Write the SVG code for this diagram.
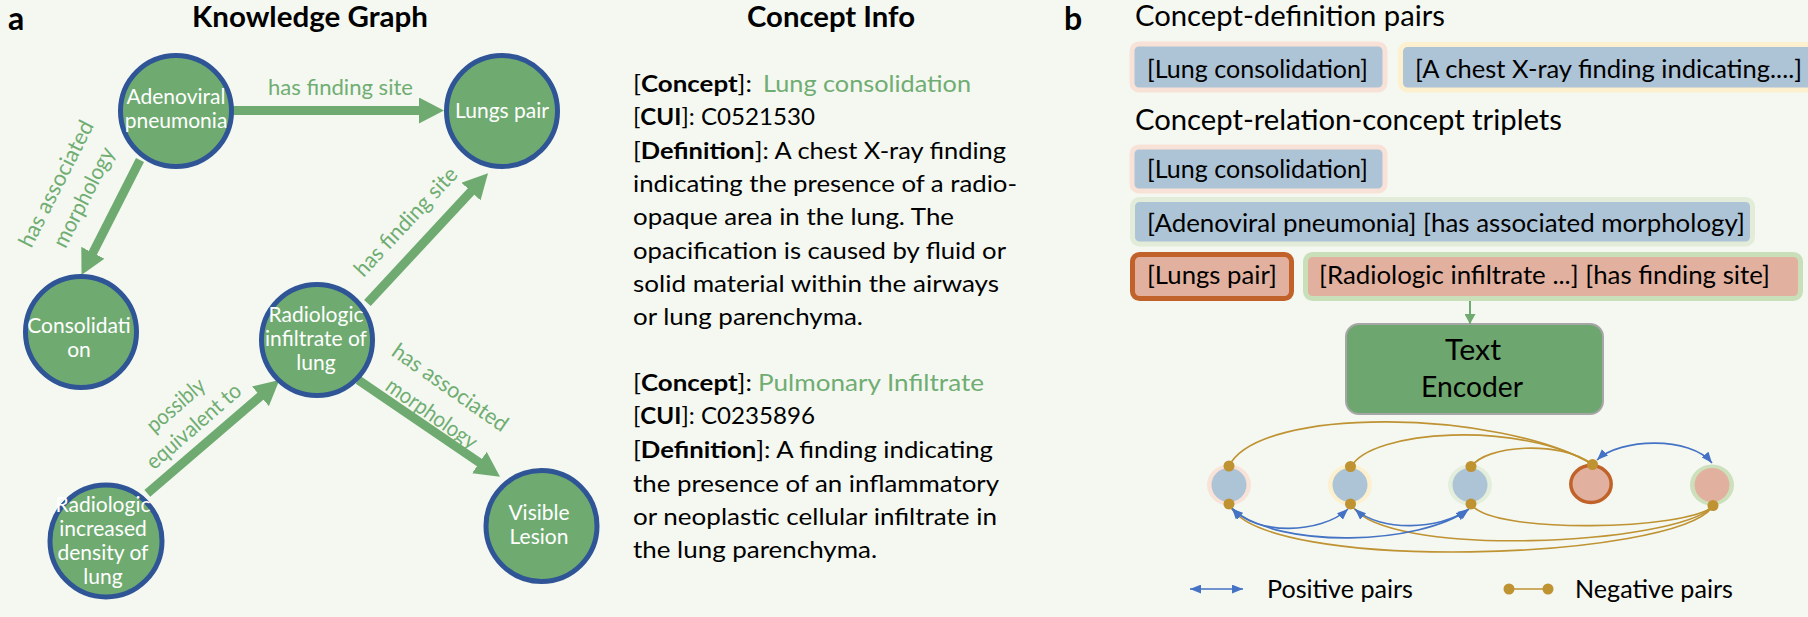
<svg xmlns="http://www.w3.org/2000/svg" width="1808" height="617" viewBox="0 0 1808 617">
<style>
text{font-family:Lato,"Open Sans","DejaVu Sans",sans-serif}
.node{fill:#6FAB71;stroke:#2F5597;stroke-width:5}
.nt{fill:#fff;font-size:21px;text-anchor:middle}
.edge{stroke:#6FAB71;stroke-width:9;fill:none;marker-end:url(#ah)}
.lbl{fill:#70AD72;font-size:22px;text-anchor:middle}
.title{font-size:28px;font-weight:bold;text-anchor:middle;fill:#000}
.pl{font-size:32px;font-weight:bold;fill:#000}
.info{font-size:23px;fill:#000}
.b{font-weight:bold}
.g{fill:#70AD72}
.hd{font-size:28px;fill:#000}
.bt{font-size:25px;fill:#000}
.blue{fill:#ADC3D6}
.pink{fill:#E2B09E}
.neg{fill:none;stroke:#BF9232;stroke-width:1.6}
.pos{fill:none;stroke:#4472C4;stroke-width:1.6;marker-start:url(#bh);marker-end:url(#bh)}
.dot{fill:#BF9232}
</style>
<defs>
<marker id="ah" markerUnits="userSpaceOnUse" viewBox="0 0 25 26" refX="5" refY="13" markerWidth="25" markerHeight="26" orient="auto"><path d="M0,0L25,13L0,26z" fill="#6FAB71"/></marker>
<marker id="bh" markerUnits="userSpaceOnUse" viewBox="0 0 10 8" refX="10" refY="4" markerWidth="11" markerHeight="9" orient="auto-start-reverse"><path d="M0,0L10,4L0,8z" fill="#4472C4"/></marker>
<marker id="gh" markerUnits="userSpaceOnUse" viewBox="0 0 10 11" refX="10" refY="5.5" markerWidth="11" markerHeight="11" orient="auto"><path d="M0,0L10,5.5L0,11z" fill="#6FAB71"/></marker>
</defs>
<rect width="1808" height="617" fill="#F4F8F1"/>

<!-- Panel a -->
<text class="pl" x="8" y="30">a</text>
<text class="title" x="310" y="27" textLength="236" lengthAdjust="spacingAndGlyphs">Knowledge Graph</text>

<g id="kg-connectors">
<line class="edge" x1="233" y1="110.5" x2="424" y2="110.5"/>
<line class="edge" x1="140" y1="160" x2="90.6" y2="257.2"/>
<line class="edge" x1="367.4" y1="303" x2="474.4" y2="187.9"/>
<line class="edge" x1="147.3" y1="493.3" x2="264.2" y2="393"/>
<line class="edge" x1="358.3" y1="380" x2="483.5" y2="465.4"/>
<text class="lbl" x="340.5" y="95" textLength="145" lengthAdjust="spacingAndGlyphs">has finding site</text>
<text class="lbl" transform="translate(406,222) rotate(-47)" y="7" textLength="140" lengthAdjust="spacingAndGlyphs">has finding site</text>
<text class="lbl" transform="translate(56.5,184) rotate(-63)" y="7" textLength="139" lengthAdjust="spacingAndGlyphs">has associated</text>
<text class="lbl" transform="translate(84,197.5) rotate(-63)" y="7" textLength="109" lengthAdjust="spacingAndGlyphs">morphology</text>
<text class="lbl" transform="translate(176,405.5) rotate(-41)" y="7" textLength="70" lengthAdjust="spacingAndGlyphs">possibly</text>
<text class="lbl" transform="translate(194,426.5) rotate(-41)" y="7" textLength="118" lengthAdjust="spacingAndGlyphs">equivalent to</text>
<text class="lbl" transform="translate(450,388) rotate(35)" y="7" textLength="136" lengthAdjust="spacingAndGlyphs">has associated</text>
<text class="lbl" transform="translate(431.5,414) rotate(35)" y="7" textLength="106" lengthAdjust="spacingAndGlyphs">morphology</text>
</g>

<g id="node-adenoviral">
<circle class="node" cx="176" cy="111" r="55.5"/>
<text class="nt" x="176" y="104">Adenoviral</text>
<text class="nt" x="176" y="128">pneumonia</text>
</g>
<g id="node-lungs-pair">
<circle class="node" cx="502" cy="111" r="55.5"/>
<text class="nt" x="502" y="118">Lungs pair</text>
</g>
<g id="node-consolidation">
<circle class="node" cx="81" cy="332" r="55.5"/>
<text class="nt" x="79" y="333">Consolidati</text>
<text class="nt" x="79" y="357">on</text>
</g>
<g id="node-radiologic-infiltrate">
<circle class="node" cx="317" cy="340" r="55.5"/>
<text class="nt" x="316" y="322">Radiologic</text>
<text class="nt" x="316" y="346">infiltrate of</text>
<text class="nt" x="316" y="370">lung</text>
</g>
<g id="node-radiologic-increased">
<circle class="node" cx="106" cy="541" r="56"/>
<text class="nt" x="103" y="512">Radiologic</text>
<text class="nt" x="103" y="536">increased</text>
<text class="nt" x="103" y="560">density of</text>
<text class="nt" x="103" y="584">lung</text>
</g>
<g id="node-visible-lesion">
<circle class="node" cx="541.5" cy="526" r="55.5"/>
<text class="nt" x="539" y="520">Visible</text>
<text class="nt" x="539" y="544">Lesion</text>
</g>

<!-- Concept info -->
<g id="concept-info">
<text class="title" x="831" y="27" textLength="168" lengthAdjust="spacingAndGlyphs">Concept Info</text>
<text class="info" x="633" y="92" textLength="119" lengthAdjust="spacingAndGlyphs">[<tspan class="b">Concept</tspan>]:</text>
<text class="info g" x="763" y="92" textLength="208" lengthAdjust="spacingAndGlyphs">Lung consolidation</text>
<text class="info" x="633" y="125" textLength="182" lengthAdjust="spacingAndGlyphs">[<tspan class="b">CUI</tspan>]: C0521530</text>
<text class="info" x="633" y="158.5" textLength="373" lengthAdjust="spacingAndGlyphs">[<tspan class="b">Definition</tspan>]: A chest X-ray finding</text>
<text class="info" x="633" y="192" textLength="384" lengthAdjust="spacingAndGlyphs">indicating the presence of a radio-</text>
<text class="info" x="633" y="225" textLength="321" lengthAdjust="spacingAndGlyphs">opaque area in the lung. The</text>
<text class="info" x="633" y="258.5" textLength="373" lengthAdjust="spacingAndGlyphs">opacification is caused by fluid or</text>
<text class="info" x="633" y="292" textLength="366" lengthAdjust="spacingAndGlyphs">solid material within the airways</text>
<text class="info" x="633" y="325" textLength="230" lengthAdjust="spacingAndGlyphs">or lung parenchyma.</text>
<text class="info" x="633" y="391" textLength="119" lengthAdjust="spacingAndGlyphs">[<tspan class="b">Concept</tspan>]:</text>
<text class="info g" x="758" y="391" textLength="226" lengthAdjust="spacingAndGlyphs">Pulmonary Infiltrate</text>
<text class="info" x="633" y="424" textLength="182" lengthAdjust="spacingAndGlyphs">[<tspan class="b">CUI</tspan>]: C0235896</text>
<text class="info" x="633" y="458" textLength="360" lengthAdjust="spacingAndGlyphs">[<tspan class="b">Definition</tspan>]: A finding indicating</text>
<text class="info" x="633" y="491.5" textLength="366" lengthAdjust="spacingAndGlyphs">the presence of an inflammatory</text>
<text class="info" x="633" y="525" textLength="364" lengthAdjust="spacingAndGlyphs">or neoplastic cellular infiltrate in</text>
<text class="info" x="633" y="558" textLength="244" lengthAdjust="spacingAndGlyphs">the lung parenchyma.</text>
</g>

<!-- Panel b -->
<text class="pl" x="1064" y="30">b</text>
<text class="hd" x="1135" y="26" textLength="310" lengthAdjust="spacingAndGlyphs">Concept-definition pairs</text>
<text class="hd" x="1135" y="130" textLength="427" lengthAdjust="spacingAndGlyphs">Concept-relation-concept triplets</text>

<g id="box-def-concept">
<rect x="1132" y="44" width="253" height="46" rx="7" class="blue" stroke="#F8E1D7" stroke-width="5"/>
<text class="bt" x="1147" y="78" textLength="221" lengthAdjust="spacingAndGlyphs">[Lung consolidation]</text>
</g>
<g id="box-def-definition">
<rect x="1400.5" y="44.5" width="420" height="45.5" rx="7" class="blue" stroke="#FDF0CE" stroke-width="5"/>
<text class="bt" x="1415" y="78" textLength="387" lengthAdjust="spacingAndGlyphs">[A chest X-ray finding indicating....]</text>
</g>
<g id="box-tri-concept">
<rect x="1132" y="147" width="253" height="44" rx="7" class="blue" stroke="#F8E1D7" stroke-width="5"/>
<text class="bt" x="1147" y="178" textLength="221" lengthAdjust="spacingAndGlyphs">[Lung consolidation]</text>
</g>
<g id="box-tri-relation">
<rect x="1132.5" y="199.5" width="620" height="44.5" rx="7" class="blue" stroke="#E2ECD9" stroke-width="5"/>
<text class="bt" x="1147" y="232" textLength="598" lengthAdjust="spacingAndGlyphs">[Adenoviral pneumonia] [has associated morphology]</text>
</g>
<g id="box-lungs-pair">
<rect x="1132.5" y="254.5" width="159" height="44" rx="7" class="pink" stroke="#C0622A" stroke-width="5"/>
<text class="bt" x="1147" y="284" textLength="130" lengthAdjust="spacingAndGlyphs">[Lungs pair]</text>
</g>
<g id="box-radiologic">
<rect x="1305.5" y="254.5" width="495" height="44" rx="7" class="pink" stroke="#C9DFB9" stroke-width="5"/>
<text class="bt" x="1319" y="284" textLength="451" lengthAdjust="spacingAndGlyphs">[Radiologic infiltrate ...] [has finding site]</text>
</g>

<g id="text-encoder">
<rect x="1346" y="324" width="257" height="90" rx="13" fill="#6DA66E" stroke="#A6A6A6" stroke-width="2"/>
<text class="hd" x="1473" y="360" text-anchor="middle" font-size="30" textLength="56" lengthAdjust="spacingAndGlyphs">Text</text>
<text class="hd" x="1472" y="397" text-anchor="middle" font-size="30" textLength="102" lengthAdjust="spacingAndGlyphs">Encoder</text>
</g>

<g id="emb-1">
<ellipse cx="1229" cy="485" rx="22" ry="20.5" fill="#F9E2D8"/>
<ellipse cx="1229" cy="485" rx="17.5" ry="17" class="blue"/>
</g>
<g id="emb-2">
<ellipse cx="1350" cy="485" rx="22" ry="20.5" fill="#FDF0CE"/>
<ellipse cx="1350" cy="485" rx="17.5" ry="17" class="blue"/>
</g>
<g id="emb-3">
<ellipse cx="1470" cy="485" rx="22" ry="20.5" fill="#E4EEDC"/>
<ellipse cx="1470" cy="485" rx="17.5" ry="17" class="blue"/>
</g>
<g id="emb-4">
<ellipse cx="1591" cy="484" rx="20.2" ry="18.5" class="pink" stroke="#C0622A" stroke-width="3.5"/>
</g>
<g id="emb-5">
<ellipse cx="1712" cy="485" rx="22" ry="20.5" fill="#CCE0BC"/>
<ellipse cx="1712" cy="485" rx="17.5" ry="17" class="pink"/>
</g>

<g id="connectors">
<line x1="1470" y1="301" x2="1470" y2="324" stroke="#6FAB71" stroke-width="2" marker-end="url(#gh)"/>
<path class="neg" d="M1229,466 C1260,405 1500,410 1592,464"/>
<path class="neg" d="M1351,467 C1370,430 1520,420 1592,464"/>
<path class="neg" d="M1471,467 C1485,445 1560,440 1592,464"/>
<path class="neg" d="M1471,504 C1490,535 1690,530 1713,506"/>
<path class="neg" d="M1351,504 C1380,560 1680,545 1713,506"/>
<path class="neg" d="M1229,504 C1260,575 1680,560 1713,506"/>
<path class="pos" d="M1597,460 C1620,438 1690,436 1712,463"/>
<path class="pos" d="M1232,508 C1255,535 1320,535 1348,509"/>
<path class="pos" d="M1232,509 C1280,550 1420,545 1469,509"/>
<path class="pos" d="M1355,509 C1380,532 1440,530 1467,510"/>
<circle class="dot" cx="1229" cy="466" r="5.5"/>
<circle class="dot" cx="1229" cy="504" r="5.5"/>
<circle class="dot" cx="1350.5" cy="466.5" r="5.5"/>
<circle class="dot" cx="1350.5" cy="504" r="5.5"/>
<circle class="dot" cx="1471" cy="466.5" r="5.5"/>
<circle class="dot" cx="1471" cy="504" r="5.5"/>
<circle class="dot" cx="1592.5" cy="464.5" r="5.5"/>
<circle class="dot" cx="1713" cy="505.5" r="5.5"/>
</g>

<g id="legend">
<line x1="1190" y1="589" x2="1243" y2="589" stroke="#4472C4" stroke-width="1.6" marker-start="url(#bh)" marker-end="url(#bh)"/>
<text class="bt" x="1267" y="598" textLength="146" lengthAdjust="spacingAndGlyphs">Positive pairs</text>
<line x1="1509" y1="589" x2="1548" y2="589" stroke="#BF9232" stroke-width="1.6"/>
<circle class="dot" cx="1509" cy="589" r="5.5"/>
<circle class="dot" cx="1548" cy="589" r="5.5"/>
<text class="bt" x="1575" y="598" textLength="158" lengthAdjust="spacingAndGlyphs">Negative pairs</text>
</g>
</svg>
